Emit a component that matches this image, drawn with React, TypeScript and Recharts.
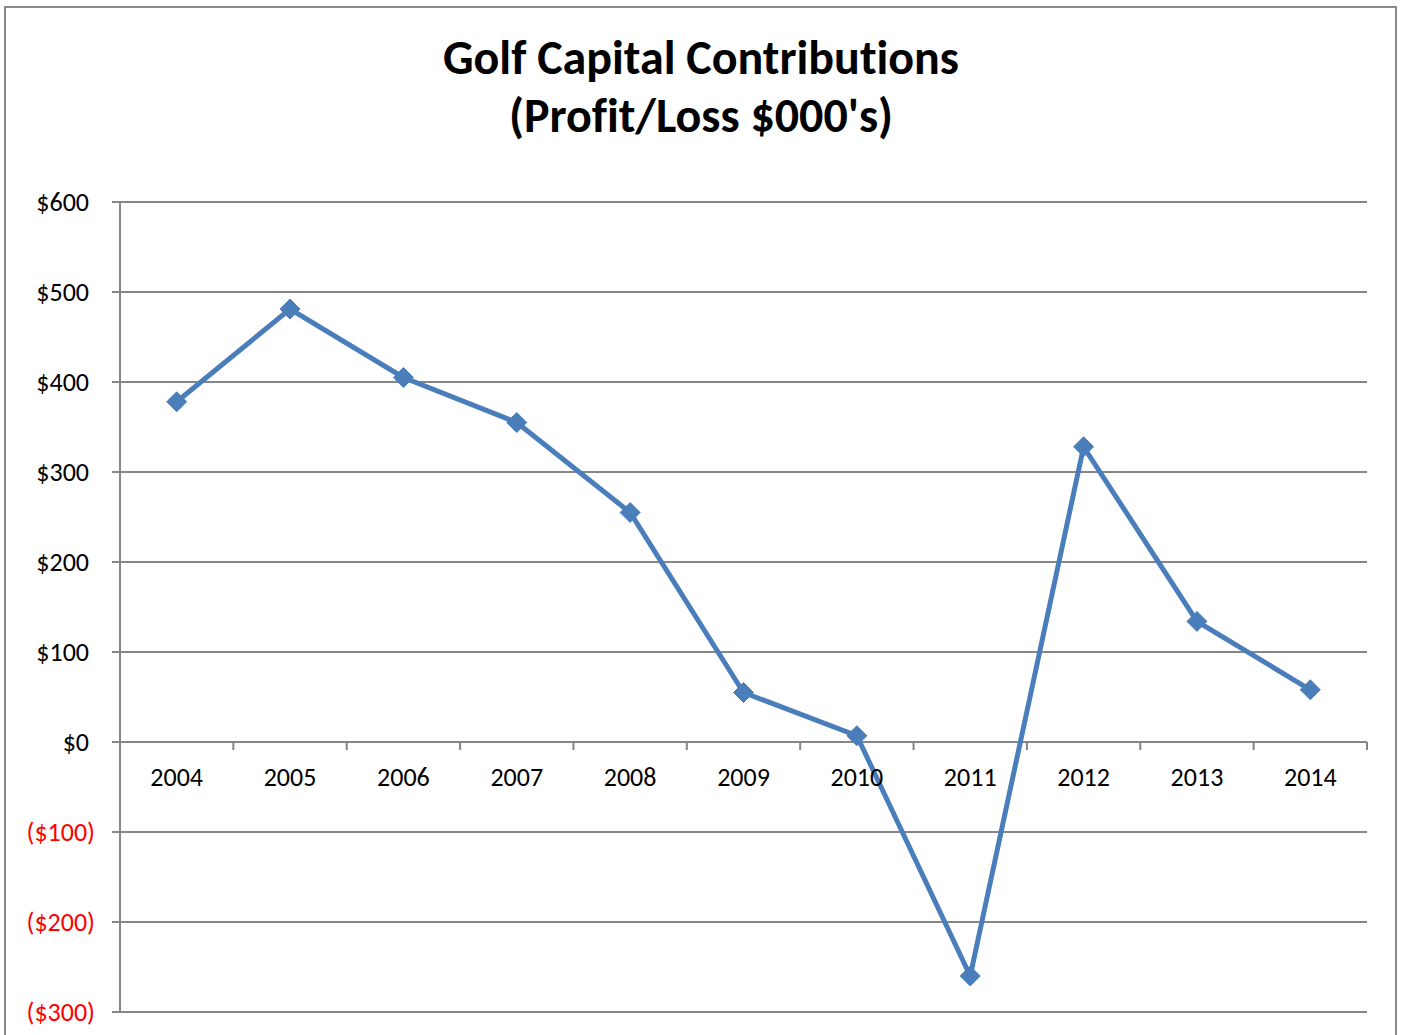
import React from 'react';
import { LineChart, Line, XAxis, YAxis, CartesianGrid } from 'recharts';

const years = ['2004', '2005', '2006', '2007', '2008', '2009', '2010', '2011', '2012', '2013', '2014'];
const profit = [378, 481, 405, 355, 255, 55, 7, -260, 328, 134, 58];
const yTicks = [-300, -200, -100, 0, 100, 200, 300, 400, 500, 600];

const data = years.map((year, i) => ({ year, profit: profit[i] }));

const W = 1402;
const H = 1035;
const xAxisHeight = 30;
const margin = { top: 202, right: 35, bottom: 23 - xAxisHeight, left: 20 };
const yAxisWidth = 100;
const plotLeft = margin.left + yAxisWidth;
const plotWidth = W - plotLeft - margin.right;
const plotHeight = H - margin.top - margin.bottom - xAxisHeight;
const yMin = -300;
const yMax = 600;
const zeroY = margin.top + ((yMax - 0) / (yMax - yMin)) * plotHeight;
const band = plotWidth / years.length;

const font = 'Carlito, Lato, sans-serif';
const grey = '#868686';
const blue = '#4a7ebb';

const fmt = (v: number) => (v < 0 ? `($${Math.abs(v)})` : `$${v}`);

const YTick = (props: any) => {
  const { y, payload } = props;
  const v = payload.value;
  const neg = v < 0;
  return (
    <text
      x={neg ? 95 : 89}
      y={y}
      dy={9}
      textAnchor="end"
      fontFamily={font}
      fontSize={26}
      fill={neg ? '#ff0000' : '#000'}
    >
      {fmt(v)}
    </text>
  );
};

const XTick = (props: any) => {
  const { x, index, payload } = props;
  return (
    <g>
      <line x1={x - band / 2} x2={x - band / 2} y1={zeroY} y2={zeroY + 8} stroke={grey} strokeWidth={2} />
      {index === years.length - 1 && (
        <line x1={x + band / 2} x2={x + band / 2} y1={zeroY} y2={zeroY + 8} stroke={grey} strokeWidth={2} />
      )}
      <text x={x} y={zeroY + 44} textAnchor="middle" fontFamily={font} fontSize={26} fill="#000">
        {payload.value}
      </text>
    </g>
  );
};

const Diamond = (props: any) => {
  const { cx, cy } = props;
  if (cx == null || cy == null) return null;
  const r = 10;
  return (
    <polygon
      points={`${cx},${cy - r} ${cx + r},${cy} ${cx},${cy + r} ${cx - r},${cy}`}
      fill={blue}
      stroke={blue}
    />
  );
};

export default function App() {
  return (
    <div style={{ position: 'absolute', left: 0, top: 0, width: W, height: H, overflow: 'hidden', background: '#fff' }}>
      <div
        style={{
          position: 'absolute',
          left: 4,
          top: 6,
          width: 1389,
          height: 1100,
          border: '2px solid #8a8a8a',
        }}
      />
      <div
        style={{
          position: 'absolute',
          left: 0,
          top: 29,
          width: W,
          textAlign: 'center',
          fontFamily: font,
          fontWeight: 'bold',
          fontSize: 48,
          lineHeight: '58px',
          color: '#000',
          fontVariantLigatures: 'none',
        }}
      >
        <div>Golf Capital Contributions</div>
        <div>(Profit/Loss $000's)</div>
      </div>
      <div style={{ position: 'absolute', left: 0, top: 0 }}>
        <LineChart width={W} height={H} data={data} margin={margin} style={{ overflow: 'visible' }}>
          <CartesianGrid vertical={false} stroke={grey} strokeWidth={2} />
          <XAxis
            dataKey="year"
            scale="band"
            height={xAxisHeight}
            axisLine={false}
            tickLine={false}
            tick={<XTick />}
            interval={0}
          />
          <YAxis
            width={yAxisWidth}
            domain={[yMin, yMax]}
            ticks={yTicks}
            interval={0}
            axisLine={{ stroke: grey, strokeWidth: 2 }}
            tickLine={{ stroke: grey, strokeWidth: 2 }}
            tickSize={8}
            tick={<YTick />}
          />
          <Line
            dataKey="profit"
            stroke={blue}
            strokeWidth={5}
            dot={<Diamond />}
            activeDot={false}
            isAnimationActive={false}
          />
        </LineChart>
      </div>
    </div>
  );
}
